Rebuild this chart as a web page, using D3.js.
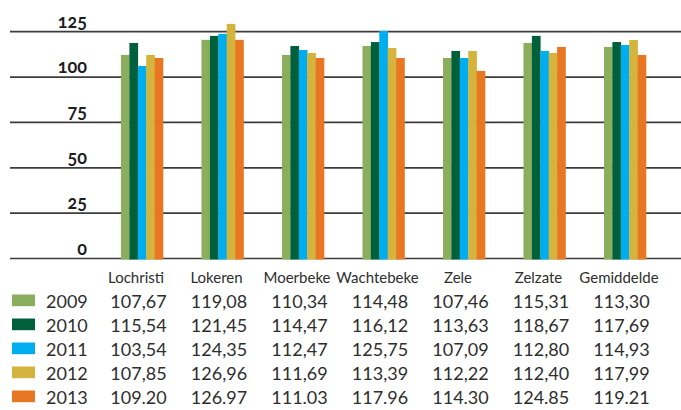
<!DOCTYPE html>
<html>
<head>
<meta charset="utf-8">
<script src="https://cdn.jsdelivr.net/npm/d3@7"></script>
<style>
  html, body { margin: 0; padding: 0; background: #fff; }
  svg { display: block; }
</style>
</head>
<body>
<div id="data_visualize"></div>
<script>
// categories and series
const gemeenten = ["Lochristi", "Lokeren", "Moerbeke", "Wachtebeke", "Zele", "Zelzate", "Gemiddelde"]
const jaren = ["2009", "2010", "2011", "2012", "2013"]
const kleuren = ["#8aae5c", "#00603c", "#00aeef", "#d4b43c", "#e97722"]

// bar heights as drawn
const bars2009 = [112.2, 120.5, 112.2, 117.1, 110.5, 118.8, 116.6]
const bars2010 = [118.8, 122.7, 117.1, 119.3, 114.4, 122.7, 119.3]
const bars2011 = [106.1, 123.8, 114.9, 125.4, 110.5, 114.4, 117.7]
const bars2012 = [112.2, 129.3, 113.3, 116.0, 114.4, 113.3, 120.4]
const bars2013 = [110.5, 120.5, 110.5, 110.5, 103.4, 116.6, 112.2]

// table values as printed
const tabel2009 = ["107,67", "119,08", "110,34", "114,48", "107,46", "115,31", "113,30"]
const tabel2010 = ["115,54", "121,45", "114,47", "116,12", "113,63", "118,67", "117,69"]
const tabel2011 = ["103,54", "124,35", "112,47", "125,75", "107,09", "112,80", "114,93"]
const tabel2012 = ["107,85", "126,96", "111,69", "113,39", "112,22", "112,40", "117,99"]
const tabel2013 = ["109.20", "126.97", "111.03", "117.96", "114.30", "124.85", "119.21"]

const yTicks = [0, 25, 50, 75, 100, 125]

const series = [bars2009, bars2010, bars2011, bars2012, bars2013]
const tabel = [tabel2009, tabel2010, tabel2011, tabel2012, tabel2013]

const width = 681, height = 410

const svg = d3.select("#data_visualize")
  .append("svg")
    .attr("width", width)
    .attr("height", height)

// scales
const x = d3.scaleBand()
  .domain(gemeenten)
  .range([101.75, 665.25])
  .paddingInner(0.478)
  .paddingOuter(0.239)

const xJaar = d3.scaleBand()
  .domain(jaren)
  .range([0, x.bandwidth()])

const y = d3.scaleLinear()
  .domain([0, 125])
  .range([258.5, 31.7])

// gridlines
svg.append("g")
  .selectAll("line")
  .data(yTicks)
  .join("line")
    .attr("x1", 10)
    .attr("x2", width)
    .attr("y1", d => y(d))
    .attr("y2", d => y(d))
    .attr("stroke", "#3c3c3c")
    .attr("stroke-width", 1.7)

// y labels
svg.append("g")
  .selectAll("text")
  .data(yTicks)
  .join("text")
    .attr("x", 87)
    .attr("y", d => y(d) - 4)
    .attr("text-anchor", "end")
    .style("font-family", "Lato, 'Open Sans', sans-serif")
    .style("font-weight", "bold")
    .style("font-variant-numeric", "oldstyle-nums")
    .style("font-size", "18px")
    .attr("fill", "#1e1e1e")
    .text(d => d)

// bars
const groep = svg.append("g")
  .selectAll("g")
  .data(gemeenten)
  .join("g")
    .attr("transform", d => `translate(${x(d)},0)`)

groep.selectAll("rect")
  .data((g, i) => jaren.map((j, k) => ({jaar: j, k: k, v: series[k][i]})))
  .join("rect")
    .attr("x", d => xJaar(d.jaar))
    .attr("y", d => y(d.v))
    .attr("width", xJaar.bandwidth() + 0.3)
    .attr("height", d => y(0) - y(d.v) + 1)
    .attr("fill", d => kleuren[d.k])

// table: category labels
const tekst = "#2e2e2e"
svg.append("g")
  .selectAll("text")
  .data(gemeenten)
  .join("text")
    .attr("x", d => x(d) + x.bandwidth() / 2 - 6)
    .attr("y", 283)
    .attr("text-anchor", "middle")
    .style("font-family", "Lato, sans-serif")
    .style("font-size", "15px")
    .attr("fill", tekst)
    .text(d => d)

// table rows
const rij = svg.append("g")
  .selectAll("g")
  .data(jaren)
  .join("g")
    .attr("transform", (d, i) => `translate(0,${307.5 + i * 24})`)

rij.append("rect")
  .attr("x", 12)
  .attr("y", -13)
  .attr("width", 23)
  .attr("height", 11.7)
  .attr("fill", (d, i) => kleuren[i])

rij.append("text")
  .attr("x", 46)
  .attr("y", 0)
  .style("font-family", "Lato, sans-serif")
  .style("font-size", "18px")
  .attr("fill", tekst)
  .text(d => d)

rij.selectAll("text.waarde")
  .data((d, i) => tabel[i].map((t, k) => ({t: t, g: gemeenten[k]})))
  .join("text")
    .attr("class", "waarde")
    .attr("x", d => x(d.g) + x.bandwidth() / 2 - 3.5)
    .attr("y", 0)
    .attr("text-anchor", "middle")
    .style("font-family", "Lato, sans-serif")
    .style("font-size", "18px")
    .attr("fill", tekst)
    .text(d => d.t)
</script>
</body>
</html>
